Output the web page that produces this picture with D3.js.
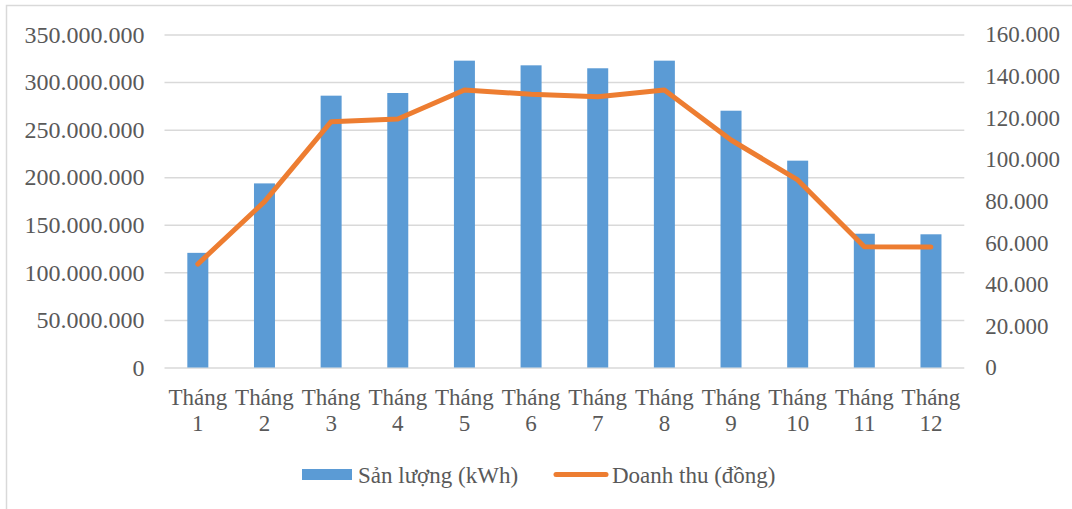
<!DOCTYPE html>
<html><head><meta charset="utf-8">
<script src="https://cdn.jsdelivr.net/npm/d3@7"></script>
<style>
html,body{margin:0;padding:0;background:#fff;}
svg text{font-family:"Liberation Serif","Times New Roman",serif !important;fill:#595959;}
</style></head>
<body>
<svg id="chart" width="1072" height="509"></svg>
<script>
const categories = ["Tháng 1","Tháng 2","Tháng 3","Tháng 4","Tháng 5","Tháng 6","Tháng 7","Tháng 8","Tháng 9","Tháng 10","Tháng 11","Tháng 12"];
const sanLuong = [120500000,193500000,285700000,288500000,322500000,317600000,314500000,322500000,269900000,217400000,140600000,140000000];
const doanhThu = [49700,79700,118100,119400,133300,131300,130100,133300,109300,90100,58000,57900];
const leftTicks = [0,50000000,100000000,150000000,200000000,250000000,300000000,350000000];
const rightTicks = [0,20000,40000,60000,80000,100000,120000,140000,160000];
const seriesNames = ["Sản lượng (kWh)","Doanh thu (đồng)"];

(function(){
const svg = d3.select("#chart");
const W = 1072, H = 509;
const pL = 164.5, pR = 964.3, pT = 34.5, pB = 367.5;
const fontSize = 23;
const serif = '"Liberation Serif","Times New Roman",serif';

// outer border
svg.append("rect").attr("x",6.5).attr("y",5.5).attr("width",W+10).attr("height",H+10)
  .attr("fill","none").attr("stroke","#d9d9d9").attr("stroke-width",1.5);

const x = d3.scaleBand().domain(categories).range([pL,pR]).padding(0);
const yL = d3.scaleLinear().domain([0,350000000]).range([pB,pT]);
const yR = d3.scaleLinear().domain([0,160000]).range([pB,pT]);
const fmt = v => d3.format(",")(v).replace(/,/g,".");

// gridlines
const grid = svg.append("g").attr("transform",`translate(${pL},0)`)
  .call(d3.axisLeft(yL).tickValues(leftTicks).tickSize(-(pR-pL)).tickFormat(""));
grid.select(".domain").remove();
grid.selectAll("line").attr("stroke","#d9d9d9").attr("stroke-width",1.5);

// left axis labels
const ax = svg.append("g").attr("transform",`translate(${pL},0)`)
  .call(d3.axisLeft(yL).tickValues(leftTicks).tickSize(0).tickPadding(20).tickFormat(fmt));
ax.select(".domain").remove();
ax.attr("font-family",serif).attr("font-size",24);
ax.selectAll("text").attr("fill",null).style("font-family",serif);

// right axis labels
const axR = svg.append("g").attr("transform",`translate(${pR},0)`)
  .call(d3.axisRight(yR).tickValues(rightTicks).tickSize(0).tickPadding(21).tickFormat(fmt));
axR.select(".domain").remove();
axR.attr("font-family",serif).attr("font-size",fontSize);
axR.selectAll("text").attr("fill",null).style("font-family",serif);

// bars
const bw = x.bandwidth()*0.315;
svg.append("g").selectAll("rect").data(sanLuong).join("rect")
  .attr("x",(d,i)=>x(categories[i])+x.bandwidth()/2-bw/2)
  .attr("y",d=>yL(d))
  .attr("width",bw)
  .attr("height",d=>pB-yL(d))
  .attr("fill","#5B9BD5");

// line
const line = d3.line().x((d,i)=>x(categories[i])+x.bandwidth()/2).y(d=>yR(d));
svg.append("path").datum(doanhThu).attr("d",line)
  .attr("fill","none").attr("stroke","#ED7D31").attr("stroke-width",5)
  .attr("stroke-linejoin","round").attr("stroke-linecap","round");

// x labels
const xl = svg.append("g").selectAll("text").data(categories).join("text")
  .attr("text-anchor","middle").attr("font-size",fontSize).style("font-family",serif);
xl.each(function(d){
  const parts = d.split(" ");
  const t = d3.select(this);
  const cx = x(d)+x.bandwidth()/2;
  t.append("tspan").attr("x",cx).attr("y",405).text(parts[0]);
  t.append("tspan").attr("x",cx).attr("y",431).text(parts[1]);
});

// legend
const lg = svg.append("g").attr("font-size",fontSize);
lg.append("rect").attr("x",302).attr("y",469).attr("width",50).attr("height",11).attr("fill","#5B9BD5");
lg.append("text").attr("x",358).attr("y",483).style("font-family",serif).text(seriesNames[0]);
lg.append("line").attr("x1",556).attr("x2",606).attr("y1",474.5).attr("y2",474.5)
  .attr("stroke","#ED7D31").attr("stroke-width",5).attr("stroke-linecap","round");
lg.append("text").attr("x",612).attr("y",483).style("font-family",serif).text(seriesNames[1]);
})();
</script>
</body></html>
